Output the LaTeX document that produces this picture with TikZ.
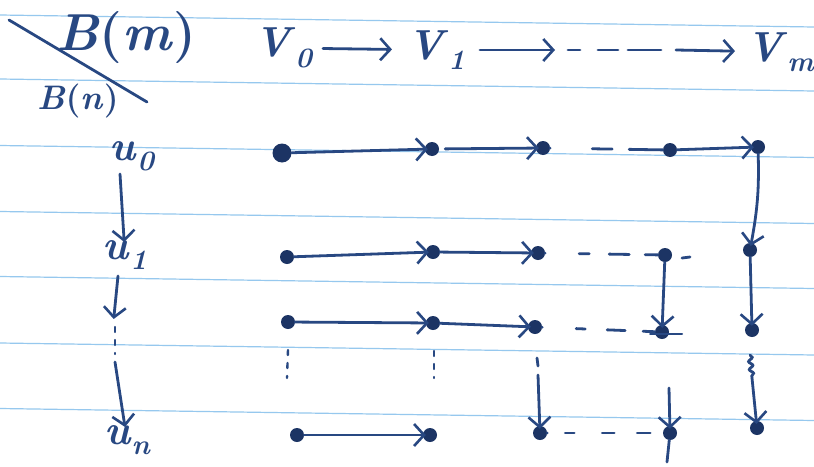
\documentclass[tikz,border=0pt]{standalone}
\usetikzlibrary{arrows.meta,decorations.pathmorphing}
\definecolor{ink}{RGB}{40,72,130}
\definecolor{dotink}{RGB}{28,52,100}
\definecolor{rule}{RGB}{150,200,238}
\newcommand{\lsub}[1]{\raisebox{-0.25em}{\fontsize{28}{30}\selectfont\bfseries\itshape #1}}
\begin{document}
\begin{tikzpicture}[x=1pt,y=-1pt,
  ruleline/.style={rule,line width=1.2pt},
  pen/.style={ink,line width=2.8pt,line cap=round},
  arr/.style={pen,-{Straight Barb[length=10pt,width=22pt,line width=2.6pt]},shorten >=-3pt},
  dashln/.style={pen,dash pattern=on 14pt off 16pt},
  dotln/.style={pen,line width=2.4pt,dash pattern=on 5pt off 8pt},
  pt/.style={circle,fill=dotink,inner sep=0pt,minimum size=14pt},
  bigpt/.style={circle,fill=dotink,inner sep=0pt,minimum size=19pt},
  lbl/.style={text=ink,inner sep=1pt,font=\fontsize{42}{46}\selectfont\bfseries},
  slbl/.style={text=ink,inner sep=1pt,font=\fontsize{34}{38}\selectfont\bfseries}]
\useasboundingbox (0,0) rectangle (814,466);
\fill[white] (0,0) rectangle (814,466);
% ruled paper lines
\foreach \y in {15,79,145.5,211.5,276.5,343,408.5}
  \draw[ruleline] (0,\y) -- (814,\y+12);
% corner label
\node[lbl,font=\fontsize{52}{56}\selectfont\bfseries] (Bm) at (126,38) {\textit{B}(\textit{m})};
\node[slbl] (Bn) at (78,101) {\textit{B}(\textit{n})};
\coordinate (s1) at (9,20);
\coordinate (s2) at (147,102);
\draw[pen] (s1) -- (s2);
% top row
\node[lbl] (V0) at (283,48) {\textit{V}\lsub{0}};
\node[lbl] (V1) at (436,50) {\textit{V}\lsub{1}};
\node[lbl] (Vm) at (780,52) {\textit{V}\lsub{m}};
\coordinate (t1) at (552,50);
\coordinate (t2) at (568,50);
\coordinate (t3) at (662,50);
\coordinate (t4) at (676,50);
\draw[arr,shorten <=10pt,shorten >=14pt] (V0) -- (V1);
\draw[arr,shorten <=14pt] (V1) -- (t1);
\draw[pen,dash pattern=on 12pt off 18pt on 20pt off 10pt on 33pt off 10pt] (t2) -- (t3);
\draw[arr,shorten >=10pt] (t4) -- (Vm);
% left column
\node[lbl] (u0) at (132,156) {\textit{u}\lsub{0}};
\node[lbl] (u1) at (125,255) {\textit{u}\lsub{1}};
\node[lbl] (un) at (127,440) {\textit{u}\lsub{n}};
\coordinate (l1) at (114,316);
\coordinate (l2) at (115,327);
\coordinate (l3) at (115,354);
\coordinate (l4) at (115,362);
\coordinate (u0b) at (120,174);
\coordinate (u1b) at (118,276);
\draw[arr] (u0b) -- (u1);
\draw[arr] (u1b) -- (l1);
\draw[dotln] (l2) -- (l3);
\draw[arr] (l4) -- (un);
% grid points
\node[bigpt] (a1) at (282,153) {};
\node[pt] (a2) at (432,149) {};
\node[pt] (a3) at (543,148) {};
\node[pt] (a4) at (670,150) {};
\node[pt] (a5) at (758,147) {};
\node[pt] (b1) at (287,257) {};
\node[pt] (b2) at (433,252) {};
\node[pt] (b3) at (538,253) {};
\node[pt] (b4) at (665,255) {};
\node[pt] (b5) at (750,250) {};
\node[pt] (c1) at (288,322) {};
\node[pt] (c2) at (433,323) {};
\node[pt] (c3) at (535,327) {};
\node[pt] (c4) at (662,332) {};
\node[pt] (c5) at (752,330) {};
\node[pt] (d1) at (297,435) {};
\node[pt] (d2) at (430,435) {};
\node[pt] (d3) at (540,433) {};
\node[pt] (d4) at (670,433) {};
\node[pt] (d5) at (757,428) {};
% row u0
\draw[arr] (a1) -- (a2);
\draw[arr,shorten <=6pt] (a2) -- (a3);
\draw[dashln,dash pattern=on 0pt off 42pt on 20pt off 17pt on 40pt] (a3) -- (a4);
\draw[arr] (a4) -- (a5);
\draw[arr] (a5) to[bend left=6] (b5);
% row u1
\draw[arr] (b1) -- (b2);
\draw[arr] (b2) -- (b3);
\draw[pen,dash pattern=on 0pt off 34pt on 10pt off 20pt on 20pt off 16pt on 30pt] (b3) -- (b4);
\coordinate (bt1) at (682,258);
\coordinate (bt2) at (690,257);
\draw[pen] (bt1) -- (bt2);
\draw[arr] (b4) -- (c4);
\draw[arr] (b5) -- (c5);
% row 3
\draw[arr] (c1) -- (c2);
\draw[arr] (c2) -- (c3);
\draw[pen,dash pattern=on 0pt off 34pt on 9pt off 22pt on 18pt off 18pt on 30pt] (c3) -- (c4);
\coordinate (ct1) at (650,334);
\coordinate (ct2) at (682,334);
\draw[pen,line width=2pt] (ct1) -- (ct2);
% dotted continuations
\coordinate (e1) at (287,378);
\coordinate (e2) at (434,378);
\draw[dotln] (c1) ++(0,28) coordinate (c1s) (c1s) -- (e1);
\draw[dotln] (c2) ++(1,28) coordinate (c2s) (c2s) -- (e2);
\coordinate (f1) at (537,358);
\coordinate (f2) at (538,366);
\coordinate (f3) at (538,375);
\draw[pen] (f1) -- (f2);
\draw[arr] (f3) -- (d3);
\coordinate (g1) at (669,388);
\coordinate (g2) at (667,462);
\draw[arr] (g1) -- (d4);
\draw[pen] (d4) -- (g2);
\coordinate (h1) at (750,355);
\coordinate (h2) at (752,378);
\draw[pen,decorate,decoration={snake,amplitude=2pt,segment length=8pt}] (h1) -- (h2);
\draw[arr] (h2) -- (d5);
% bottom row
\draw[pen,dash pattern=on 0pt off 18pt on 9pt off 28pt on 12pt off 23pt on 13pt off 30pt] (d3) -- (d4);
\draw[arr] (d1) -- (d2);
\end{tikzpicture}
\end{document}
